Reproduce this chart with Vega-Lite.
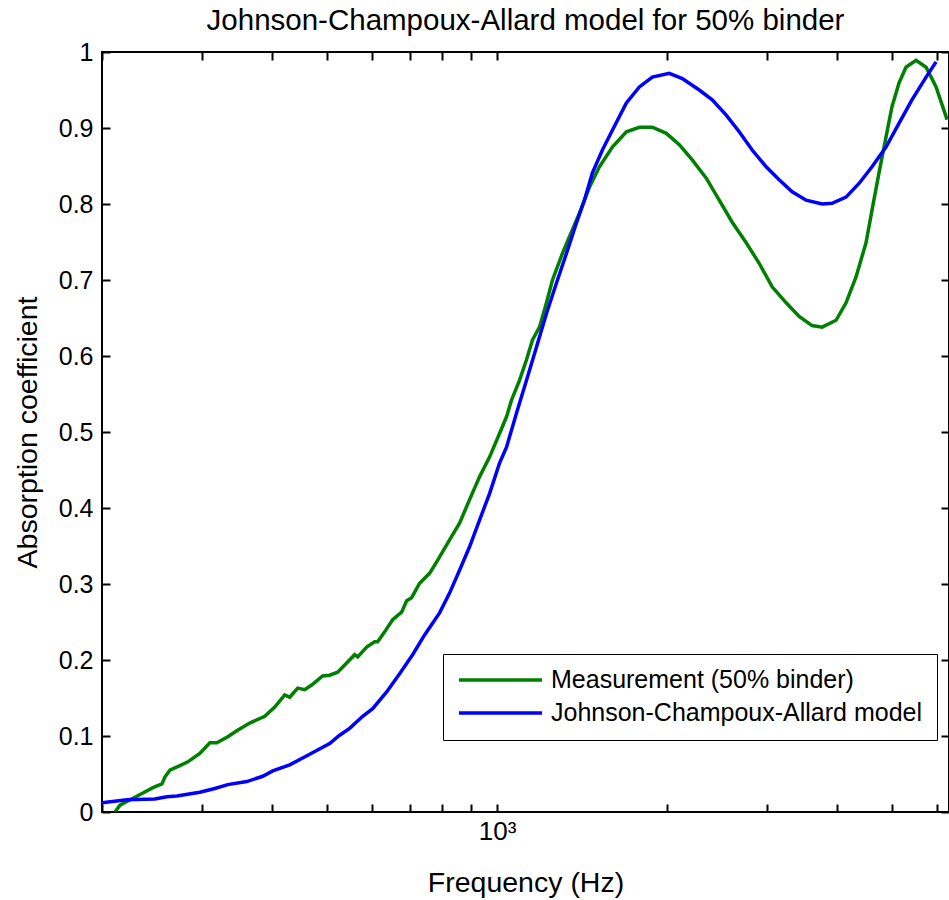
{
  "$schema": "https://vega.github.io/schema/vega-lite/v6.json",
  "width": 847,
  "height": 760,
  "autosize": {"type": "none"},
  "padding": {"left": 102, "top": 52, "right": 0, "bottom": 88},
  "background": "white",
  "config": {
    "font": "Liberation Sans",
    "view": {"stroke": "black", "strokeWidth": 2},
    "axis": {"grid": false, "domain": false, "tickColor": "black", "tickWidth": 2, "labelColor": "black", "titleColor": "black", "labelFont": "Liberation Sans", "titleFont": "Liberation Sans", "titleFontWeight": "normal"}
  },
  "title": {"text": "Johnson-Champoux-Allard model for 50% binder", "fontSize": 29.5, "fontWeight": "normal", "font": "Liberation Sans", "color": "black", "anchor": "middle", "offset": 4},
  "data": {"values": [
    {"s": "Measurement (50% binder)", "f": 210.9, "a": 0.0},
    {"s": "Measurement (50% binder)", "f": 215.2, "a": 0.009},
    {"s": "Measurement (50% binder)", "f": 226.9, "a": 0.018},
    {"s": "Measurement (50% binder)", "f": 236.3, "a": 0.025},
    {"s": "Measurement (50% binder)", "f": 246.1, "a": 0.032},
    {"s": "Measurement (50% binder)", "f": 255.3, "a": 0.037},
    {"s": "Measurement (50% binder)", "f": 258.4, "a": 0.046},
    {"s": "Measurement (50% binder)", "f": 263.7, "a": 0.055},
    {"s": "Measurement (50% binder)", "f": 274.7, "a": 0.061},
    {"s": "Measurement (50% binder)", "f": 283.7, "a": 0.066},
    {"s": "Measurement (50% binder)", "f": 297.9, "a": 0.077},
    {"s": "Measurement (50% binder)", "f": 310.3, "a": 0.091},
    {"s": "Measurement (50% binder)", "f": 319.3, "a": 0.091},
    {"s": "Measurement (50% binder)", "f": 333.9, "a": 0.099},
    {"s": "Measurement (50% binder)", "f": 346.3, "a": 0.107},
    {"s": "Measurement (50% binder)", "f": 365.1, "a": 0.117},
    {"s": "Measurement (50% binder)", "f": 388.1, "a": 0.126},
    {"s": "Measurement (50% binder)", "f": 404.2, "a": 0.138},
    {"s": "Measurement (50% binder)", "f": 421.0, "a": 0.154},
    {"s": "Measurement (50% binder)", "f": 429.6, "a": 0.151},
    {"s": "Measurement (50% binder)", "f": 443.8, "a": 0.163},
    {"s": "Measurement (50% binder)", "f": 456.6, "a": 0.161},
    {"s": "Measurement (50% binder)", "f": 469.8, "a": 0.167},
    {"s": "Measurement (50% binder)", "f": 491.3, "a": 0.179},
    {"s": "Measurement (50% binder)", "f": 505.5, "a": 0.180},
    {"s": "Measurement (50% binder)", "f": 522.2, "a": 0.184},
    {"s": "Measurement (50% binder)", "f": 541.7, "a": 0.196},
    {"s": "Measurement (50% binder)", "f": 559.8, "a": 0.207},
    {"s": "Measurement (50% binder)", "f": 566.7, "a": 0.204},
    {"s": "Measurement (50% binder)", "f": 587.8, "a": 0.217},
    {"s": "Measurement (50% binder)", "f": 607.2, "a": 0.224},
    {"s": "Measurement (50% binder)", "f": 614.7, "a": 0.224},
    {"s": "Measurement (50% binder)", "f": 632.5, "a": 0.237},
    {"s": "Measurement (50% binder)", "f": 653.4, "a": 0.253},
    {"s": "Measurement (50% binder)", "f": 677.7, "a": 0.263},
    {"s": "Measurement (50% binder)", "f": 691.7, "a": 0.278},
    {"s": "Measurement (50% binder)", "f": 705.9, "a": 0.282},
    {"s": "Measurement (50% binder)", "f": 729.2, "a": 0.301},
    {"s": "Measurement (50% binder)", "f": 759.5, "a": 0.314},
    {"s": "Measurement (50% binder)", "f": 784.6, "a": 0.331},
    {"s": "Measurement (50% binder)", "f": 823.9, "a": 0.358},
    {"s": "Measurement (50% binder)", "f": 858.1, "a": 0.380},
    {"s": "Measurement (50% binder)", "f": 893.8, "a": 0.411},
    {"s": "Measurement (50% binder)", "f": 930.9, "a": 0.441},
    {"s": "Measurement (50% binder)", "f": 969.6, "a": 0.467},
    {"s": "Measurement (50% binder)", "f": 1009.8, "a": 0.498},
    {"s": "Measurement (50% binder)", "f": 1039.0, "a": 0.520},
    {"s": "Measurement (50% binder)", "f": 1060.4, "a": 0.542},
    {"s": "Measurement (50% binder)", "f": 1095.4, "a": 0.568},
    {"s": "Measurement (50% binder)", "f": 1127.1, "a": 0.595},
    {"s": "Measurement (50% binder)", "f": 1154.9, "a": 0.621},
    {"s": "Measurement (50% binder)", "f": 1188.3, "a": 0.638},
    {"s": "Measurement (50% binder)", "f": 1222.6, "a": 0.670},
    {"s": "Measurement (50% binder)", "f": 1252.8, "a": 0.700},
    {"s": "Measurement (50% binder)", "f": 1304.8, "a": 0.735},
    {"s": "Measurement (50% binder)", "f": 1342.5, "a": 0.757},
    {"s": "Measurement (50% binder)", "f": 1398.3, "a": 0.788},
    {"s": "Measurement (50% binder)", "f": 1456.3, "a": 0.822},
    {"s": "Measurement (50% binder)", "f": 1516.8, "a": 0.849},
    {"s": "Measurement (50% binder)", "f": 1599.1, "a": 0.875},
    {"s": "Measurement (50% binder)", "f": 1692.9, "a": 0.895},
    {"s": "Measurement (50% binder)", "f": 1784.8, "a": 0.901},
    {"s": "Measurement (50% binder)", "f": 1881.9, "a": 0.901},
    {"s": "Measurement (50% binder)", "f": 1991.9, "a": 0.893},
    {"s": "Measurement (50% binder)", "f": 2100.0, "a": 0.878},
    {"s": "Measurement (50% binder)", "f": 2214.0, "a": 0.858},
    {"s": "Measurement (50% binder)", "f": 2343.8, "a": 0.834},
    {"s": "Measurement (50% binder)", "f": 2471.1, "a": 0.805},
    {"s": "Measurement (50% binder)", "f": 2605.3, "a": 0.776},
    {"s": "Measurement (50% binder)", "f": 2758.0, "a": 0.749},
    {"s": "Measurement (50% binder)", "f": 2907.7, "a": 0.722},
    {"s": "Measurement (50% binder)", "f": 3065.5, "a": 0.691},
    {"s": "Measurement (50% binder)", "f": 3245.3, "a": 0.670},
    {"s": "Measurement (50% binder)", "f": 3421.5, "a": 0.652},
    {"s": "Measurement (50% binder)", "f": 3607.2, "a": 0.640},
    {"s": "Measurement (50% binder)", "f": 3756.9, "a": 0.638},
    {"s": "Measurement (50% binder)", "f": 3977.0, "a": 0.647},
    {"s": "Measurement (50% binder)", "f": 4142.0, "a": 0.670},
    {"s": "Measurement (50% binder)", "f": 4313.9, "a": 0.704},
    {"s": "Measurement (50% binder)", "f": 4493.0, "a": 0.749},
    {"s": "Measurement (50% binder)", "f": 4604.1, "a": 0.792},
    {"s": "Measurement (50% binder)", "f": 4737.1, "a": 0.841},
    {"s": "Measurement (50% binder)", "f": 4873.9, "a": 0.888},
    {"s": "Measurement (50% binder)", "f": 4994.3, "a": 0.928},
    {"s": "Measurement (50% binder)", "f": 5138.5, "a": 0.959},
    {"s": "Measurement (50% binder)", "f": 5286.9, "a": 0.980},
    {"s": "Measurement (50% binder)", "f": 5508.3, "a": 0.989},
    {"s": "Measurement (50% binder)", "f": 5738.8, "a": 0.980},
    {"s": "Measurement (50% binder)", "f": 5977.1, "a": 0.954},
    {"s": "Measurement (50% binder)", "f": 6250.9, "a": 0.911},
    {"s": "Johnson-Champoux-Allard model", "f": 200.0, "a": 0.012},
    {"s": "Johnson-Champoux-Allard model", "f": 221.4, "a": 0.016},
    {"s": "Johnson-Champoux-Allard model", "f": 248.1, "a": 0.017},
    {"s": "Johnson-Champoux-Allard model", "f": 260.5, "a": 0.020},
    {"s": "Johnson-Champoux-Allard model", "f": 271.3, "a": 0.021},
    {"s": "Johnson-Champoux-Allard model", "f": 297.9, "a": 0.026},
    {"s": "Johnson-Champoux-Allard model", "f": 316.7, "a": 0.031},
    {"s": "Johnson-Champoux-Allard model", "f": 333.9, "a": 0.036},
    {"s": "Johnson-Champoux-Allard model", "f": 360.7, "a": 0.040},
    {"s": "Johnson-Champoux-Allard model", "f": 384.9, "a": 0.047},
    {"s": "Johnson-Champoux-Allard model", "f": 400.9, "a": 0.054},
    {"s": "Johnson-Champoux-Allard model", "f": 429.6, "a": 0.062},
    {"s": "Johnson-Champoux-Allard model", "f": 452.9, "a": 0.071},
    {"s": "Johnson-Champoux-Allard model", "f": 479.5, "a": 0.081},
    {"s": "Johnson-Champoux-Allard model", "f": 505.5, "a": 0.090},
    {"s": "Johnson-Champoux-Allard model", "f": 526.5, "a": 0.101},
    {"s": "Johnson-Champoux-Allard model", "f": 548.4, "a": 0.110},
    {"s": "Johnson-Champoux-Allard model", "f": 578.3, "a": 0.126},
    {"s": "Johnson-Champoux-Allard model", "f": 602.3, "a": 0.136},
    {"s": "Johnson-Champoux-Allard model", "f": 637.6, "a": 0.158},
    {"s": "Johnson-Champoux-Allard model", "f": 672.2, "a": 0.182},
    {"s": "Johnson-Champoux-Allard model", "f": 708.8, "a": 0.207},
    {"s": "Johnson-Champoux-Allard model", "f": 744.2, "a": 0.233},
    {"s": "Johnson-Champoux-Allard model", "f": 791.0, "a": 0.262},
    {"s": "Johnson-Champoux-Allard model", "f": 823.9, "a": 0.288},
    {"s": "Johnson-Champoux-Allard model", "f": 858.1, "a": 0.318},
    {"s": "Johnson-Champoux-Allard model", "f": 893.8, "a": 0.349},
    {"s": "Johnson-Champoux-Allard model", "f": 930.9, "a": 0.384},
    {"s": "Johnson-Champoux-Allard model", "f": 969.6, "a": 0.419},
    {"s": "Johnson-Champoux-Allard model", "f": 1009.8, "a": 0.459},
    {"s": "Johnson-Champoux-Allard model", "f": 1039.0, "a": 0.480},
    {"s": "Johnson-Champoux-Allard model", "f": 1082.2, "a": 0.525},
    {"s": "Johnson-Champoux-Allard model", "f": 1127.1, "a": 0.568},
    {"s": "Johnson-Champoux-Allard model", "f": 1173.9, "a": 0.612},
    {"s": "Johnson-Champoux-Allard model", "f": 1222.6, "a": 0.656},
    {"s": "Johnson-Champoux-Allard model", "f": 1273.4, "a": 0.696},
    {"s": "Johnson-Champoux-Allard model", "f": 1326.2, "a": 0.735},
    {"s": "Johnson-Champoux-Allard model", "f": 1381.3, "a": 0.775},
    {"s": "Johnson-Champoux-Allard model", "f": 1427.0, "a": 0.805},
    {"s": "Johnson-Champoux-Allard model", "f": 1474.2, "a": 0.841},
    {"s": "Johnson-Champoux-Allard model", "f": 1535.4, "a": 0.871},
    {"s": "Johnson-Champoux-Allard model", "f": 1599.1, "a": 0.897},
    {"s": "Johnson-Champoux-Allard model", "f": 1692.9, "a": 0.933},
    {"s": "Johnson-Champoux-Allard model", "f": 1784.8, "a": 0.954},
    {"s": "Johnson-Champoux-Allard model", "f": 1881.9, "a": 0.967},
    {"s": "Johnson-Champoux-Allard model", "f": 2016.4, "a": 0.972},
    {"s": "Johnson-Champoux-Allard model", "f": 2125.8, "a": 0.965},
    {"s": "Johnson-Champoux-Allard model", "f": 2278.0, "a": 0.950},
    {"s": "Johnson-Champoux-Allard model", "f": 2401.6, "a": 0.937},
    {"s": "Johnson-Champoux-Allard model", "f": 2542.5, "a": 0.917},
    {"s": "Johnson-Champoux-Allard model", "f": 2680.5, "a": 0.895},
    {"s": "Johnson-Champoux-Allard model", "f": 2826.0, "a": 0.871},
    {"s": "Johnson-Champoux-Allard model", "f": 2991.7, "a": 0.849},
    {"s": "Johnson-Champoux-Allard model", "f": 3154.1, "a": 0.832},
    {"s": "Johnson-Champoux-Allard model", "f": 3325.4, "a": 0.816},
    {"s": "Johnson-Champoux-Allard model", "f": 3520.3, "a": 0.805},
    {"s": "Johnson-Champoux-Allard model", "f": 3756.9, "a": 0.800},
    {"s": "Johnson-Champoux-Allard model", "f": 3912.7, "a": 0.801},
    {"s": "Johnson-Champoux-Allard model", "f": 4142.0, "a": 0.809},
    {"s": "Johnson-Champoux-Allard model", "f": 4366.9, "a": 0.827},
    {"s": "Johnson-Champoux-Allard model", "f": 4604.1, "a": 0.849},
    {"s": "Johnson-Champoux-Allard model", "f": 4873.9, "a": 0.875},
    {"s": "Johnson-Champoux-Allard model", "f": 5138.5, "a": 0.906},
    {"s": "Johnson-Champoux-Allard model", "f": 5417.5, "a": 0.937},
    {"s": "Johnson-Champoux-Allard model", "f": 5738.8, "a": 0.967},
    {"s": "Johnson-Champoux-Allard model", "f": 5977.1, "a": 0.987}
  ]},
  "layer": [
    {
      "mark": {"type": "line", "strokeWidth": 3.5, "clip": true},
      "encoding": {
        "x": {"field": "f", "type": "quantitative", "scale": {"type": "log", "domain": [200, 6300], "nice": false},
          "axis": {"orient": "bottom", "values": [200, 300, 400, 500, 600, 700, 800, 900, 1000, 2000, 3000, 4000, 5000, 6000], "labelExpr": "datum.value == 1000 ? '10³' : ''", "tickSize": -8, "labelFontSize": 26, "labelPadding": 14, "title": "Frequency (Hz)", "titleFontSize": 28.5, "titlePadding": 24}},
        "y": {"field": "a", "type": "quantitative", "scale": {"domain": [0, 1], "nice": false},
          "axis": {"orient": "left", "values": [0, 0.1, 0.2, 0.3, 0.4, 0.5, 0.6, 0.7, 0.8, 0.9, 1], "labelExpr": "format(datum.value, '.1~f')", "tickSize": -8, "labelFontSize": 25, "labelPadding": 17, "title": "Absorption coefficient", "titleFontSize": 28.5, "titlePadding": 16}},
        "color": {"field": "s", "type": "nominal",
          "scale": {"domain": ["Measurement (50% binder)", "Johnson-Champoux-Allard model"], "range": ["#008000", "#0000FF"]},
          "legend": {"title": null, "orient": "none", "legendX": 341, "legendY": 602, "symbolType": "stroke", "symbolSize": 6889, "symbolStrokeWidth": 3.5, "labelFontSize": 25, "labelColor": "black", "labelOffset": 7, "padding": 14, "clipHeight": 24, "rowPadding": 8, "strokeColor": "black", "fillColor": "white", "labelLimit": 600}}
      }
    },
    {
      "mark": {"type": "line", "opacity": 0},
      "encoding": {
        "x": {"field": "f", "type": "quantitative", "scale": {"type": "log", "domain": [200, 6300], "nice": false},
          "axis": {"orient": "top", "values": [200, 300, 400, 500, 600, 700, 800, 900, 1000, 2000, 3000, 4000, 5000, 6000], "labels": false, "tickSize": -8, "title": null}},
        "y": {"field": "a", "type": "quantitative", "scale": {"domain": [0, 1], "nice": false},
          "axis": {"orient": "right", "values": [0, 0.1, 0.2, 0.3, 0.4, 0.5, 0.6, 0.7, 0.8, 0.9, 1], "labels": false, "tickSize": -8, "title": null}},
        "detail": {"field": "s"}
      }
    }
  ],
  "resolve": {"axis": {"x": "independent", "y": "independent"}}
}
